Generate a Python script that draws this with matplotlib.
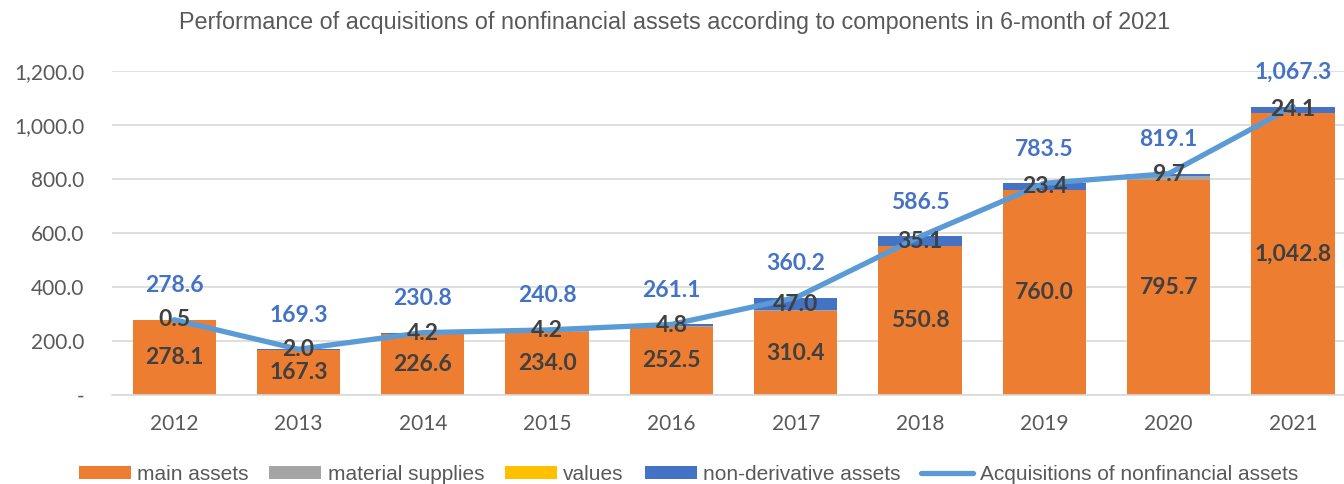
import matplotlib
matplotlib.use("Agg")
import matplotlib.pyplot as plt
import numpy as np

years = ["2012", "2013", "2014", "2015", "2016", "2017", "2018", "2019", "2020", "2021"]
main_assets = [278.1, 167.3, 226.6, 234.0, 252.5, 310.4, 550.8, 760.0, 795.7, 1042.8]
material_supplies = [0.0, 0.0, 0.0, 2.6, 3.8, 2.8, 0.6, 0.1, 13.7, 0.4]
values_ = [0.0, 0.0, 0.0, 0.0, 0.0, 0.0, 0.0, 0.0, 0.0, 0.0]
non_derivative = [0.5, 2.0, 4.2, 4.2, 4.8, 47.0, 35.1, 23.4, 9.7, 24.1]
total = [278.6, 169.3, 230.8, 240.8, 261.1, 360.2, 586.5, 783.5, 819.1, 1067.3]

c_main = "#ED7D31"
c_mat = "#A5A5A5"
c_val = "#FFC000"
c_nd = "#4472C4"
c_line = "#5B9BD5"
c_text = "#595959"
c_lab = "#404040"

fig = plt.figure(figsize=(13.44, 4.84), dpi=100)
ax = fig.add_axes([112/1344, 89/484, 1 - 112/1344, (395-70.7)/484])

x = np.arange(len(years))
w = 0.67
main = np.array(main_assets)
mat = np.array(material_supplies)
val = np.array(values_)
nd = np.array(non_derivative)

b1 = ax.bar(x, main, w, color=c_main, label="main assets", zorder=2)
b2 = ax.bar(x, mat, w, bottom=main, color=c_mat, label="material supplies", zorder=2)
b3 = ax.bar(x, val, w, bottom=main + mat, color=c_val, label="values", zorder=2)
b4 = ax.bar(x, nd, w, bottom=main + mat + val, color=c_nd, label="non-derivative assets", zorder=2)
ln, = ax.plot(x, total, color=c_line, lw=3.8, label="Acquisitions of nonfinancial assets",
              zorder=3, solid_capstyle="round")

ax.set_xlim(-0.5, 9.41)
ax.set_ylim(0, 1200)
ax.set_yticks(np.arange(0, 1201, 200))
ax.set_yticklabels(["-" if v == 0 else f"{v:,.1f}" for v in range(0, 1201, 200)])
ax.set_xticks(x)
ax.set_xticklabels(years)
ax.grid(axis="y", color="#D9D9D9", lw=1.2, zorder=0)
ax.set_axisbelow(True)
for s in ["top", "right", "left"]:
    ax.spines[s].set_visible(False)
ax.spines["bottom"].set_color("#D9D9D9")
ax.spines["bottom"].set_linewidth(1.2)
ax.tick_params(axis="both", length=0, colors=c_text)
ax.tick_params(axis="y", pad=20, labelsize=15)
ax.tick_params(axis="x", pad=14, labelsize=15)
for t in ax.get_xticklabels() + ax.get_yticklabels():
    t.set_fontfamily("Lato")

lab_font = dict(fontfamily="Lato", fontsize=16.5, fontweight="bold", ha="center", va="center", zorder=5)
for i in range(len(years)):
    ax.text(x[i], main[i] / 2, f"{main[i]:,.1f}", color=c_lab, **lab_font)
    top = main[i] + mat[i] + val[i]
    ax.text(x[i], top + nd[i] / 2, f"{nd[i]:,.1f}", color=c_lab, **lab_font)
    ax.annotate(f"{total[i]:,.1f}", (x[i], total[i]), xytext=(0, 34), textcoords="offset pixels",
                color=c_nd, **lab_font)

fig.text(0.5 + 3/1344, 1 - 22/484, "Performance of acquisitions of nonfinancial assets according to components in 6-month of 2021",
         ha="center", va="center", fontsize=16.8, color=c_text, fontfamily="Liberation Sans")

leg = fig.legend(handles=[b1, b2, b3, b4, ln], loc="center", bbox_to_anchor=(0.512, 1 - 474/484),
                 ncol=5, frameon=False, handlelength=2.5, handleheight=0.6,
                 columnspacing=1.0, handletextpad=0.3, prop={"family": "Liberation Sans", "size": 15})
for t in leg.get_texts():
    t.set_color(c_text)

fig.savefig("out.png", dpi=100)
